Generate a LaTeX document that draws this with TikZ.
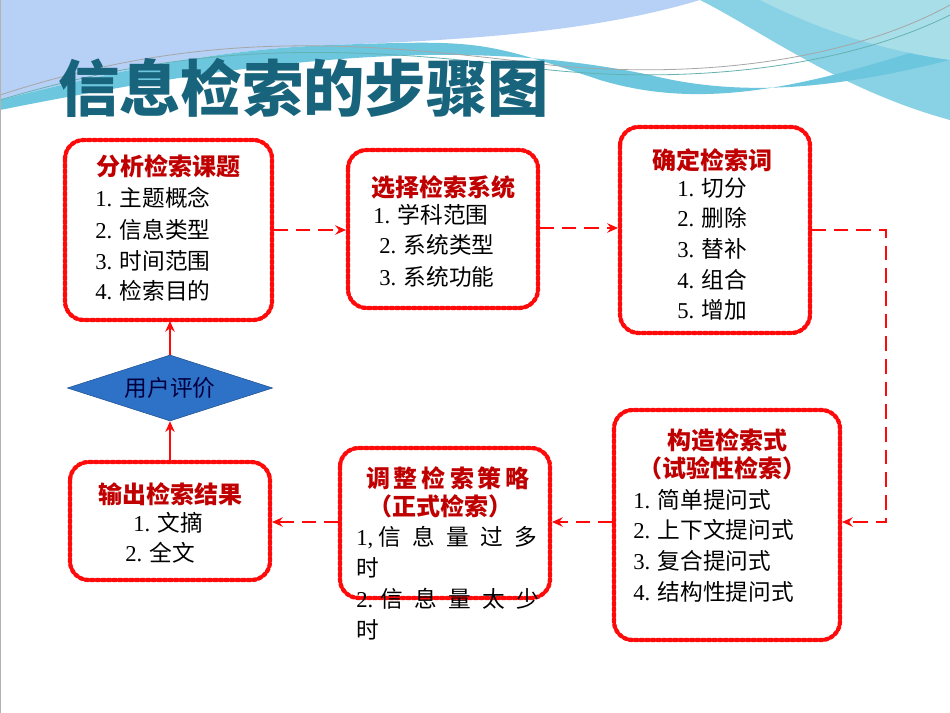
\documentclass[tikz,border=0pt]{standalone}
\usepackage{fontspec}
\setmainfont{Liberation Serif}
\newfontfamily\cjk{Noto Sans CJK SC}
\usetikzlibrary{shapes.geometric,arrows.meta}
\definecolor{rd}{HTML}{FF0A0A}
\definecolor{tt}{HTML}{C00000}
\definecolor{wv}{HTML}{6CC6DE}
\definecolor{wv2}{HTML}{A8DEE8}
\definecolor{ttc}{HTML}{17647C}
\definecolor{dmc}{HTML}{2E72C8}
\begin{document}
\begin{tikzpicture}[x=0.75pt,y=-0.75pt,
 box/.style={draw=rd,line width=3.2pt,dash pattern=on 2.2pt off 2pt,line cap=round,rounded corners=14pt,fill=white},
 ttl/.style={font=\cjk\bfseries\fontsize{18}{20}\selectfont,text=tt},
 itm/.style={font=\fontsize{17}{19}\selectfont,anchor=west,inner sep=0},
 flow/.style={draw=rd,line width=1.6pt,dash pattern=on 11pt off 6pt,-{Stealth[length=8pt,width=7pt]}},
 up/.style={draw=rd,line width=1.6pt,-{Stealth[length=8pt,width=7pt]}}]
\useasboundingbox (0,0) rectangle (950,713);
\fill[white] (0,0) rectangle (950,713);
% waves
\fill[wv!80] (0,0) -- (700,0) .. controls (760,30) and (840,90) .. (950,120) -- (950,0) -- cycle;
\fill[wv!70!blue!40] (0,0) -- (700,0) .. controls (600,30) and (480,40) .. (330,45) .. controls (200,50) and (80,80) .. (0,100) -- cycle;
\fill[wv] (0,100) .. controls (80,80) and (200,50) .. (330,45) .. controls (480,40) .. (600,80) .. controls (700,110) and (800,90) .. (950,40) -- (950,60) .. controls (850,85) and (750,100) .. (650,75) .. controls (480,40) and (300,50) .. (0,110) -- cycle;
\fill[wv2] (760,0) .. controls (820,30) and (880,50) .. (950,60) -- (950,0) -- cycle;
\draw[gray!70,line width=0.6pt] (0,95) .. controls (200,30) and (350,40) .. (550,65) .. controls (700,80) and (850,60) .. (950,5);
\draw[teal!60,line width=0.6pt] (0,100) .. controls (200,40) and (350,45) .. (550,70) .. controls (700,85) and (850,65) .. (950,15);
\draw[gray!60,line width=0.8pt] (0.5,0) -- (0.5,713);
% title
\node[font=\cjk\bfseries\fontsize{46}{48}\selectfont,text=ttc,anchor=west,inner sep=0] (title) at (58,88) {信息检索的步骤图};
% boxes
\draw[box] (65,140) rectangle (272,320);
\node[ttl] (t1) at (168,166) {分析检索课题};
\foreach \y/\t [count=\i] in {198/主题概念,230/信息类型,261/时间范围,291/检索目的}
 \node[itm] (a\i) at (95,\y) {\i. {\cjk \t}};
\draw[box] (348,150) rectangle (538,308);
\node[ttl] (t2) at (443,187) {选择检索系统};
\node[itm] (b1) at (373,215) {1. {\cjk 学科范围}};
\node[itm] (b2) at (379,245) {2. {\cjk 系统类型}};
\node[itm] (b3) at (379,277) {3. {\cjk 系统功能}};
\draw[box] (620,127) rectangle (810,333);
\node[ttl] (t3) at (712,160) {确定检索词};
\foreach \y/\t [count=\i] in {188/切分,218/删除,249/替补,280/组合,310/增加}
 \node[itm] (c\i) at (677,\y) {\i. {\cjk \t}};
\draw[box] (614,410) rectangle (840,640);
\node[ttl] (t4) at (727,440) {构造检索式};
\node[ttl] (t4b) at (722,468) {（试验性检索）};
\foreach \y/\t [count=\i] in {500/简单提问式,530/上下文提问式,561/复合提问式,592/结构性提问式}
 \node[itm] (d\i) at (633,\y) {\i. {\cjk \t}};
\draw[box] (340,448) rectangle (550,598);
\node[ttl] (t5) at (448,478) {调\,整\,检\,索\,策\,略};
\node[ttl] (t5b) at (440,506) {（正式检索）};
\node[itm] (e1) at (356,538) {1, {\cjk 信\enspace 息\enspace 量\enspace 过\enspace 多}};
\node[itm] (e2) at (356,568) {\cjk 时};
\node[itm] (e3) at (356,599) {2. {\cjk 信\enspace 息\enspace 量\enspace 太\enspace 少}};
\node[itm] (e4) at (356,630) {\cjk 时};
\draw[box] (70,462) rectangle (270,580);
\node[ttl] (t6) at (170,494) {输出检索结果};
\node[itm] (f1) at (133,523) {1. {\cjk 文摘}};
\node[itm] (f2) at (125,553) {2. {\cjk 全文}};
% diamond
\node[diamond,aspect=3.1,fill=dmc,draw=dmc!70!black,inner sep=0,minimum height=49.5pt,minimum width=154pt,font=\cjk\fontsize{17}{19}\selectfont,text=black!75!blue] (dm) at (170,388) {用户评价};
% named anchors
\coordinate (p1) at (273,230); \coordinate (p2) at (346,230);
\coordinate (q1) at (539,228); \coordinate (q2) at (618,228);
\coordinate (r1) at (811,230); \coordinate (r2) at (886,230); \coordinate (r3) at (886,522); \coordinate (r4) at (842,522);
\coordinate (s1) at (613,522); \coordinate (s2) at (552,522);
\coordinate (u1) at (339,522); \coordinate (u2) at (272,522);
\coordinate (v1) at (170,461); \coordinate (w1) at (170,321);
\draw[flow] (p1) -- (p2);
\draw[flow] (q1) -- (q2);
\draw[flow] (r1) -- (r2) -- (r3) -- (r4);
\draw[flow] (s1) -- (s2);
\draw[flow] (u1) -- (u2);
\draw[up] (v1) -- (dm.south);
\draw[up] (dm.north) -- (w1);
\end{tikzpicture}
\end{document}
